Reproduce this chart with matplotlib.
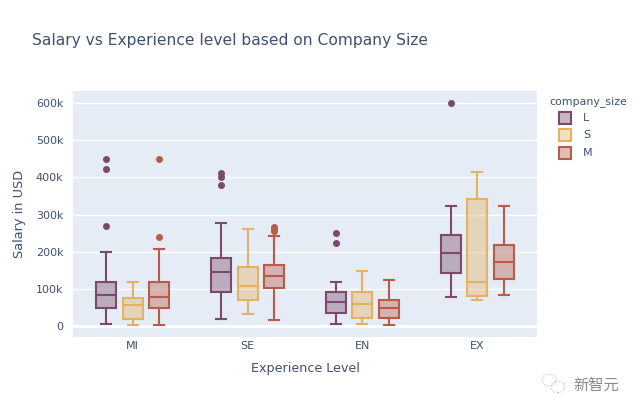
#!/usr/bin/env python3
import matplotlib
matplotlib.use("Agg")
import matplotlib.pyplot as plt
from matplotlib.colors import to_rgba
from matplotlib.patches import Ellipse, Rectangle

levels = ["MI", "SE", "EN", "EX"]
sizes = ["L", "S", "M"]
colors = {"L": "#7B4A6A", "S": "#E3B262", "M": "#B85C4A"}

# per size, one value per experience level (in thousands)
whislo = {"L": [5, 19, 5, 77], "S": [1, 32, 5, 69], "M": [3, 17, 3, 84]}
q1 = {"L": [48, 92, 36, 142], "S": [18, 70, 20, 80], "M": [49, 102, 20, 127]}
med = {"L": [84, 146, 63, 196], "S": [55, 108, 59, 117], "M": [77, 135, 48, 171]}
q3 = {"L": [117, 184, 92, 245], "S": [74, 160, 90, 341], "M": [118, 165, 69, 219]}
whishi = {"L": [199, 276, 119, 324], "S": [119, 260, 149, 416], "M": [206, 243, 124, 323]}
fliers = {
    "L": [[449, 422, 269], [411, 402, 379], [249, 224], [600]],
    "S": [[], [], [], []],
    "M": [[449, 240], [267, 261, 257], [], []],
}

yticks = [0, 100, 200, 300, 400, 500, 600]
ylabels = ["0", "100k", "200k", "300k", "400k", "500k", "600k"]

text_col = "#3F5170"
bg = "#E5ECF6"

fig = plt.figure(figsize=(6.4, 4.11), dpi=100)
ax = fig.add_axes([73 / 640, 1 - 337 / 411, (537 - 73) / 640, (337 - 91) / 411])
ax.set_facecolor(bg)

offset = 0.232
for i, size in enumerate(sizes):
    col = colors[size]
    stats = []
    for j in range(len(levels)):
        stats.append({
            "whislo": whislo[size][j], "q1": q1[size][j], "med": med[size][j],
            "q3": q3[size][j], "whishi": whishi[size][j], "fliers": fliers[size][j],
        })
    pos = [j + (i - 1) * offset for j in range(len(levels))]
    ax.bxp(
        stats, positions=pos, widths=0.174, patch_artist=True, manage_ticks=False,
        boxprops=dict(facecolor=to_rgba(col, 0.4), edgecolor=col, linewidth=1.5),
        medianprops=dict(color=col, linewidth=1.5),
        whiskerprops=dict(color=col, linewidth=1.5),
        capprops=dict(color=col, linewidth=1.5),
        capwidths=0.087,
        flierprops=dict(marker="o", markersize=4, markerfacecolor=col, markeredgecolor=col),
        zorder=3,
    )

ax.set_xlim(-0.52, 3.52)
ax.set_ylim(-30, 633)
ax.set_xticks(range(len(levels)))
ax.set_xticklabels(levels)
ax.set_yticks(yticks)
ax.set_yticklabels(ylabels)
ax.grid(axis="y", color="white", linewidth=1.0, zorder=1)
ax.axhline(0, color="white", linewidth=2, zorder=1)
ax.set_axisbelow(True)
for s in ax.spines.values():
    s.set_visible(False)
ax.tick_params(length=0, labelsize=8, labelcolor=text_col)
ax.tick_params(axis="x", pad=3)
ax.tick_params(axis="y", pad=7)
ax.set_xlabel("Experience Level", fontsize=9.2, color=text_col, labelpad=8)
ax.set_ylabel("Salary in USD", fontsize=9.3, color=text_col, labelpad=7)

fig.text(32 / 640, 1 - 40 / 411, "Salary vs Experience level based on Company Size",
         fontsize=11.2, color=text_col, va="center", ha="left")

# legend drawn by hand so the swatches sit indented under the title
fig.text(549 / 640, 1 - 102 / 411, "company_size", fontsize=7.9, color=text_col,
         va="center", ha="left")
for row, size in enumerate(sizes):
    cy = 118 + row * 17.5
    fig.add_artist(Rectangle((559 / 640, 1 - (cy + 6) / 411), 12 / 640, 12 / 411,
                             facecolor=to_rgba(colors[size], 0.4), edgecolor=colors[size],
                             linewidth=1.5, transform=fig.transFigure))
    fig.text(583 / 640, 1 - cy / 411, size, fontsize=8, color=text_col, va="center", ha="left")

# watermark
fig.text(573 / 640, 1 - 385 / 411, "新智元", fontsize=11, color="#8A8A8A", va="center",
         ha="left", family=["Noto Sans CJK SC", "DejaVu Sans"])
for cx, cy, w, h in [(549, 380, 14, 12), (558, 387, 14, 11)]:
    fig.add_artist(Ellipse((cx / 640, 1 - cy / 411), w / 640, h / 411, fill=False,
                           edgecolor="#B5B5B5", linewidth=0.7, linestyle=":",
                           transform=fig.transFigure))

fig.savefig("out.png", dpi=100)
